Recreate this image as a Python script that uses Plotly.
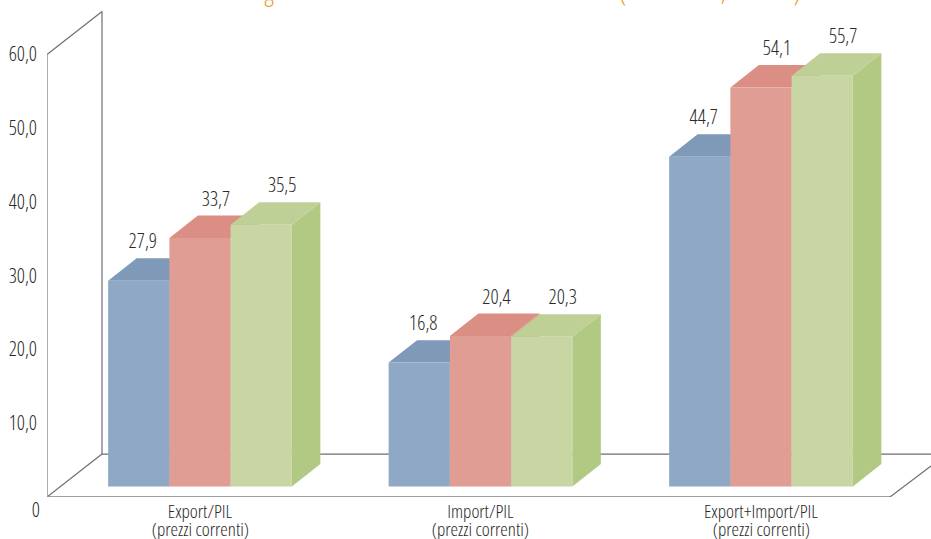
import plotly.graph_objects as go

# ---- data ----
categories = ["Export/PIL", "Import/PIL", "Export+Import/PIL"]
subtitle = "(prezzi correnti)"
series_a = [27.9, 16.8, 44.7]
series_b = [33.7, 20.4, 54.1]
series_c = [35.5, 20.3, 55.7]
y_ticks = [10, 20, 30, 40, 50, 60]
y_tick_labels = ["10,0", "20,0", "30,0", "40,0", "50,0", "60,0"]

# ---- style ----
front = ["#8EA8C5", "#E09D94", "#C8D6A3"]
top = ["#7E9AB8", "#DA8E84", "#BFD097"]
side = ["#7E9AB8", "#DA8E84", "#B1C982"]
FONT = "Open Sans, sans-serif"
TXT = "#2a2a2a"
W, H = 931, 539
PX_X = 280.5          # px per category
PX_Y = 7.383          # px per value unit
Y0 = 497.5            # page y of value 0
X0 = 200              # page x of first category
LEFT = 47
bargap = 0.345
base = 1.42           # bars stand on the floor, in front of the axis
dx_bar = 28.5 / PX_X  # bar depth
dy_bar = 22.5 / PX_Y
dx_wall = 55 / PX_X   # chart depth
dy_wall = 43 / PX_Y
label_gap = 15 / PX_Y
label_dx = [4 / PX_X, 16 / PX_X, 21 / PX_X]

all_series = [series_a, series_b, series_c]
bw = (1 - bargap) / 3
x_min = -(X0 - LEFT) / PX_X
x_max = (W - X0) / PX_X
x_right = x_min + 843 / PX_X
y_max = Y0 / PX_Y


def fmt(v):
    return f"{v:.1f}".replace(".", ",")


fig = go.Figure()

# 3D faces (top, side), behind the front faces
for s, vals in enumerate(all_series):
    for i, v in enumerate(vals):
        xl = i - (1 - bargap) / 2 + s * bw
        xr = xl + bw
        yt = base + v
        fig.add_trace(go.Scatter(
            x=[xr, xr + dx_bar, xr + dx_bar, xr, xr],
            y=[base, base + dy_bar, yt + dy_bar, yt, base],
            fill="toself", fillcolor=side[s], mode="none",
            hoverinfo="skip", showlegend=False))
        fig.add_trace(go.Scatter(
            x=[xl, xl + dx_bar, xr + dx_bar, xr, xl],
            y=[yt, yt + dy_bar, yt + dy_bar, yt, yt],
            fill="toself", fillcolor=top[s], mode="none",
            hoverinfo="skip", showlegend=False))

# front faces
for s, vals in enumerate(all_series):
    fig.add_trace(go.Bar(
        x=list(range(len(categories))), y=vals, base=base,
        marker=dict(color=front[s], line=dict(width=0)),
        zorder=2, showlegend=False, hoverinfo="skip"))

# value labels
for s, vals in enumerate(all_series):
    xs = [i - (1 - bargap) / 2 + s * bw + bw / 2 + label_dx[s] for i in range(len(vals))]
    ys = [base + v + dy_bar + label_gap for v in vals]
    fig.add_trace(go.Scatter(
        x=xs, y=ys, mode="text", text=[fmt(v) for v in vals],
        textposition="middle center",
        textfont=dict(family=FONT, size=20, color=TXT),
        zorder=3, hoverinfo="skip", showlegend=False))

LINE = dict(color="#6e6e6e", width=1.2)
frame = [
    (0 + x_min, y_ticks[-1], x_min + dx_wall, y_ticks[-1] + dy_wall),
    (x_min + dx_wall, y_ticks[-1] + dy_wall, x_min + dx_wall, dy_wall),
    (x_min, 0, x_min + dx_wall, dy_wall),
    (x_min + dx_wall, dy_wall, x_max, dy_wall),
    (x_right, 0, x_max, 31 / PX_Y),
]
shapes = [dict(type="line", x0=a, y0=b, x1=c, y1=d, xref="x", yref="y",
               line=LINE, layer="below") for a, b, c, d in frame]
# front baseline and front vertical axis
shapes.append(dict(type="line", x0=x_min, y0=0, x1=x_right, y1=0, xref="x", yref="y",
                   line=dict(color="#808080", width=1.6), layer="below"))
shapes.append(dict(type="line", x0=x_min, y0=0, x1=x_min, y1=y_ticks[-1], xref="x", yref="y",
                   line=dict(color="#9a9a9a", width=1.6), layer="below"))

annotations = [dict(x=x_min, y=0, xref="x", yref="y", text="0", showarrow=False,
                    xanchor="right", yanchor="middle", xshift=-4, yshift=-12.5,
                    font=dict(family=FONT, size=20, color=TXT))]
for i in range(len(categories)):
    annotations.append(dict(x=i, y=0, xref="x", yref="y", text=subtitle, showarrow=False,
                            xanchor="center", yanchor="middle", yshift=-31.5,
                            font=dict(family=FONT, size=19, color=TXT)))
# only these bits of the cropped heading can be read at the top edge
for txt, px in [("g", 269), ("(", 623), (",", 723), (")", 797)]:
    annotations.append(dict(x=(px - X0) / PX_X, y=1, xref="x", yref="paper", text=txt,
                            showarrow=False, xanchor="center", yanchor="bottom", yshift=-11,
                            font=dict(family="Open Sans, sans-serif", size=26, color="#F09A1E")))

fig.update_layout(
    width=W, height=H, margin=dict(l=LEFT, r=0, t=0, b=H - Y0, pad=0, autoexpand=False),
    paper_bgcolor="white", plot_bgcolor="white",
    barmode="group", bargap=bargap, bargroupgap=0,
    showlegend=False, shapes=shapes, annotations=annotations,
    xaxis=dict(range=[x_min, x_max], tickmode="array", automargin=False,
               tickvals=list(range(len(categories))), ticktext=categories,
               showgrid=False, zeroline=False, showline=False,
               ticks="", ticklabelstandoff=1,
               tickfont=dict(family=FONT, size=19, color=TXT)),
    yaxis=dict(range=[0, y_max], tickmode="array", tickvals=y_ticks, ticktext=y_tick_labels,
               automargin=False,
               showgrid=False, zeroline=False, showline=False,
               ticks="outside", ticklen=5, tickcolor="rgba(0,0,0,0)",
               tickfont=dict(family=FONT, size=20, color=TXT)),
)

css = ("var st=document.createElement('style');"
       "st.textContent='body{margin:0;overflow:hidden} "
       ".main-svg text{font-stretch:75% !important;font-weight:300 !important}';"
       "document.head.appendChild(st);")
fig.write_html("out.html", config={"displayModeBar": False}, post_script=css)
